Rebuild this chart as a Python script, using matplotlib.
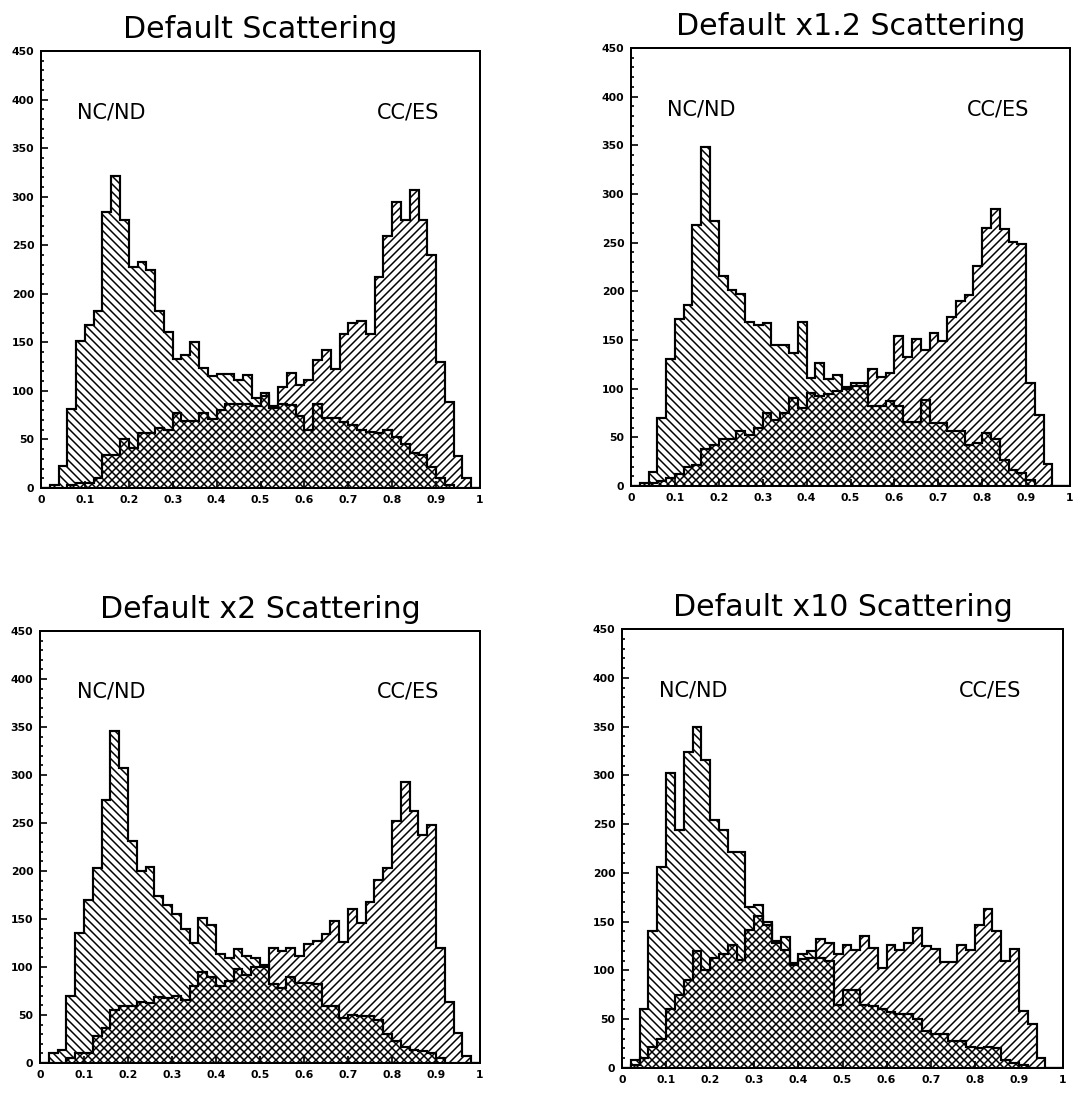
import numpy as np
import matplotlib
matplotlib.use('Agg')
import matplotlib.pyplot as plt
from matplotlib.ticker import MultipleLocator, FuncFormatter

# 50 bins of width 0.02 between 0 and 1
titles = ['Default Scattering', 'Default x1.2 Scattering',
          'Default x2 Scattering', 'Default x10 Scattering']

nc_x1 = [0, 3, 23, 81, 151, 168, 182, 284, 321, 276,
         228, 233, 224, 182, 161, 133, 137, 150, 124, 115,
         117, 117, 111, 116, 93, 98, 84, 86, 85, 74,
         60, 87, 72, 72, 68, 65, 60, 58, 57, 60,
         53, 45, 36, 34, 22, 10, 3, 0, 0, 0]
cc_x1 = [0, 0, 0, 3, 5, 5, 10, 34, 34, 50,
         41, 57, 57, 62, 60, 77, 69, 69, 77, 71,
         80, 86, 86, 86, 84, 95, 82, 104, 118, 106,
         111, 132, 142, 123, 159, 170, 172, 159, 217, 260,
         295, 276, 307, 276, 240, 130, 89, 33, 10, 0]

nc_x12 = [0, 3, 14, 70, 130, 172, 186, 268, 348, 272,
          216, 201, 197, 169, 165, 167, 145, 145, 137, 169,
          111, 126, 110, 114, 102, 106, 106, 82, 82, 87,
          82, 66, 66, 88, 65, 65, 57, 57, 42, 44,
          54, 48, 27, 16, 13, 6, 0, 0, 0, 0]
cc_x12 = [0, 0, 3, 5, 8, 12, 20, 22, 38, 42,
          48, 48, 57, 52, 60, 75, 68, 75, 90, 80,
          96, 92, 95, 98, 100, 103, 103, 120, 112, 116,
          154, 133, 151, 140, 157, 149, 174, 190, 196, 226,
          265, 285, 264, 251, 249, 106, 73, 23, 0, 0]

nc_x2 = [0, 10, 14, 70, 135, 170, 203, 274, 346, 307,
         231, 200, 204, 174, 165, 155, 140, 125, 151, 144,
         114, 109, 119, 111, 109, 102, 82, 78, 90, 83,
         83, 82, 59, 59, 47, 50, 49, 49, 45, 30,
         23, 17, 14, 12, 10, 5, 0, 0, 0, 0]
cc_x2 = [0, 0, 0, 5, 10, 10, 28, 36, 55, 59,
         59, 64, 62, 69, 68, 70, 66, 80, 95, 90,
         80, 85, 98, 92, 100, 100, 120, 117, 120, 111,
         124, 127, 134, 148, 126, 160, 146, 168, 191, 203,
         252, 293, 262, 238, 248, 120, 64, 31, 7, 0]

nc_x10 = [0, 8, 60, 140, 206, 302, 244, 324, 350, 316,
          254, 244, 221, 221, 165, 167, 150, 130, 134, 108,
          117, 120, 113, 110, 65, 80, 80, 65, 64, 60,
          57, 55, 55, 50, 38, 35, 35, 28, 28, 22,
          20, 22, 20, 8, 5, 3, 0, 0, 0, 0]
cc_x10 = [0, 3, 10, 22, 30, 60, 75, 90, 120, 100,
          113, 117, 126, 111, 141, 156, 147, 128, 121, 106,
          112, 113, 132, 128, 117, 126, 121, 135, 123, 103,
          126, 121, 128, 143, 125, 122, 109, 109, 126, 121,
          147, 163, 140, 110, 122, 58, 45, 10, 0, 0]

plt.rcParams['hatch.linewidth'] = 0.9

DPI = 120
fig = plt.figure(figsize=(1089 / DPI, 1109 / DPI), dpi=DPI)
fig.patch.set_facecolor('white')

# axes boxes in pixels: left, top, right, bottom
boxes = [(41, 51, 480, 488), (631, 48, 1070, 486),
         (40, 631, 480, 1063), (622, 629, 1063, 1068)]


def draw_panel(ax, title, nc, cc):
    edges = np.linspace(0, 1, len(nc) + 1)
    ax.stairs(nc, edges, fill=True, facecolor='none', edgecolor='black',
              hatch='\\' * 5, linewidth=1.3)
    ax.stairs(cc, edges, fill=True, facecolor='none', edgecolor='black',
              hatch='/' * 5, linewidth=1.3)
    ax.set_xlim(0, 1)
    ax.set_ylim(0, 450)
    ax.xaxis.set_major_locator(MultipleLocator(0.1))
    ax.yaxis.set_major_locator(MultipleLocator(50))
    ax.yaxis.set_minor_locator(MultipleLocator(10))
    ax.xaxis.set_major_formatter(FuncFormatter(lambda v, p: '%g' % round(v, 2)))
    ax.tick_params(which='both', direction='in', width=1.0, labelsize=6.5)
    ax.tick_params(which='major', length=4, pad=4)
    ax.tick_params(which='minor', length=2)
    for lab in ax.get_xticklabels() + ax.get_yticklabels():
        lab.set_fontweight('bold')
    for sp in ax.spines.values():
        sp.set_linewidth(1.2)
    ax.set_title(title, fontsize=18, family='DejaVu Sans',
                 fontweight='normal', color='black', pad=8)
    ax.text(0.083, 387, 'NC/ND', fontsize=12.5, ha='left', va='center')
    ax.text(0.765, 387, 'CC/ES', fontsize=12.5, ha='left', va='center')


data = [(nc_x1, cc_x1), (nc_x12, cc_x12), (nc_x2, cc_x2), (nc_x10, cc_x10)]
W, H = 1089.0, 1109.0
for (l, t, r, b), title, (nc, cc) in zip(boxes, titles, data):
    ax = fig.add_axes([l / W, 1 - b / H, (r - l) / W, (b - t) / H])
    draw_panel(ax, title, nc, cc)

fig.savefig('out.png', dpi=DPI, facecolor='white')
